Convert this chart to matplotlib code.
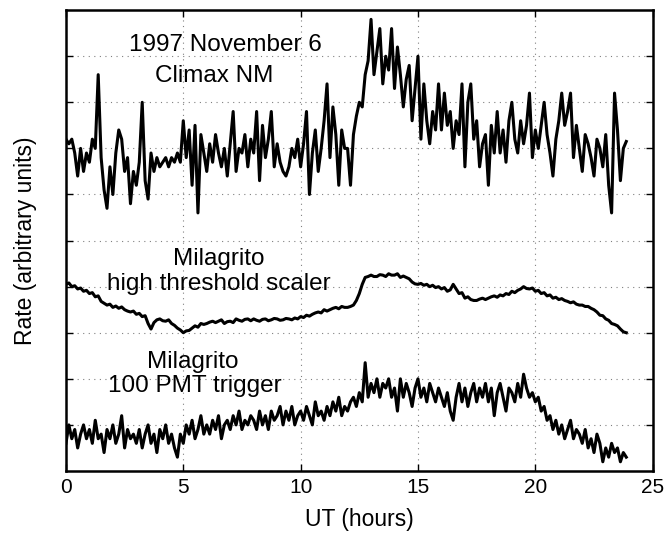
import numpy as np
import matplotlib
matplotlib.use("Agg")
import matplotlib.pyplot as plt

plt.rcParams['font.family'] = ['Liberation Sans', 'DejaVu Sans']

# Climax neutron monitor, sampled every 0.125 h
climax_step = 0.125
climax = [
    7.2, 7.1, 7.2, 6.9, 6.4, 7.0, 6.5, 6.9,
    6.7, 7.2, 7.0, 8.6, 6.8, 6.1, 5.7, 6.6,
    6.0, 6.9, 7.4, 7.2, 6.5, 6.8, 5.8, 6.5,
    6.2, 6.7, 8.0, 6.3, 5.9, 6.9, 6.5, 6.8,
    6.6, 6.7, 6.8, 6.6, 6.8, 6.7, 6.9, 6.7,
    7.6, 6.8, 7.4, 6.2, 7.5, 5.6, 7.3, 6.9,
    6.5, 7.1, 6.7, 7.3, 6.9, 6.6, 7.0, 6.4,
    7.1, 7.8, 6.5, 7.0, 6.9, 7.3, 6.6, 7.2,
    6.9, 7.8, 6.3, 7.5, 6.8, 7.2, 7.8, 6.6,
    7.1, 6.7, 6.5, 6.4, 6.6, 7.0, 6.8, 7.2,
    6.6, 7.1, 7.8, 6.0, 6.9, 7.4, 6.5, 7.0,
    7.6, 8.4, 6.8, 7.9, 7.3, 6.2, 7.4, 7.0,
    7.0, 6.2, 7.3, 7.7, 8.0, 7.9, 8.6, 8.9,
    9.8, 8.6, 9.1, 9.6, 8.4, 9.0, 8.7, 9.6,
    8.3, 9.2, 8.6, 7.9, 8.5, 8.8, 7.6, 8.3,
    9.0, 7.2, 8.4, 7.6, 7.1, 7.8, 7.4, 8.4,
    7.4, 8.2, 7.5, 7.8, 7.0, 7.6, 7.3, 8.4,
    6.6, 8.0, 8.4, 7.2, 7.6, 6.6, 7.1, 7.3,
    6.2, 7.5, 6.9, 7.8, 6.9, 7.4, 6.7, 7.6,
    8.0, 7.2, 6.9, 7.6, 7.1, 7.5, 8.2, 6.8,
    7.4, 7.0, 7.5, 8.0, 7.3, 6.9, 6.4, 7.2,
    7.6, 8.2, 7.5, 7.8, 8.2, 6.8, 7.5, 7.0,
    6.5, 7.3, 7.1, 6.8, 6.4, 7.2, 7.0, 6.6,
    7.3, 6.2, 5.6, 8.2, 7.4, 6.3, 7.0, 7.15,
]

# Milagrito high threshold scaler, every 0.125 h
scaler_step = 0.125
scaler = [
    4.05, 4.08, 4.0, 4.02, 3.95, 3.97, 3.9, 3.92,
    3.85, 3.87, 3.78, 3.8, 3.68, 3.64, 3.6, 3.62,
    3.55, 3.58, 3.53, 3.56, 3.5, 3.47, 3.45, 3.47,
    3.4, 3.42, 3.35, 3.37, 3.2, 3.08, 3.22, 3.28,
    3.3, 3.26, 3.25, 3.28, 3.2, 3.16, 3.1, 3.06,
    3.0, 3.04, 3.05, 3.1, 3.15, 3.12, 3.2, 3.18,
    3.2, 3.23, 3.25, 3.22, 3.25, 3.28, 3.2, 3.24,
    3.25, 3.22, 3.3, 3.27, 3.25, 3.29, 3.3, 3.26,
    3.3, 3.27, 3.25, 3.29, 3.3, 3.26, 3.28, 3.31,
    3.3, 3.27, 3.28, 3.31, 3.3, 3.28, 3.32, 3.3,
    3.35, 3.33, 3.38, 3.36, 3.4, 3.43, 3.45, 3.43,
    3.5, 3.47, 3.5, 3.53, 3.55, 3.52, 3.57, 3.55,
    3.55, 3.57, 3.6, 3.7, 3.85, 4.05, 4.2, 4.22,
    4.25, 4.22, 4.22, 4.26, 4.25, 4.22, 4.28, 4.25,
    4.25, 4.28, 4.2, 4.23, 4.2, 4.17, 4.1, 4.06,
    4.05, 4.07, 4.03, 4.05, 4.0, 4.03, 3.98, 4.0,
    3.95, 3.98, 3.9, 3.93, 4.05, 3.95, 3.85, 3.87,
    3.75, 3.78, 3.72, 3.7, 3.7, 3.73, 3.75, 3.72,
    3.75, 3.78, 3.8, 3.77, 3.82, 3.8, 3.85, 3.83,
    3.9, 3.87, 3.92, 3.95, 4.0, 3.96, 3.95, 3.97,
    3.9, 3.92, 3.85, 3.87, 3.8, 3.82, 3.75, 3.77,
    3.72, 3.74, 3.7, 3.68, 3.65, 3.67, 3.62, 3.6,
    3.6, 3.57, 3.57, 3.53, 3.5, 3.45, 3.38, 3.37,
    3.3, 3.27, 3.2, 3.18, 3.15, 3.08, 3.02, 3.0,
]

# Milagrito 100 PMT trigger, every 0.125 h
trigger_step = 0.125
trigger = [
    0.6, 1.0, 0.7, 0.9, 0.5, 0.8, 1.0, 0.7,
    0.9, 0.6, 1.1, 0.7, 0.8, 0.4, 0.9, 0.7,
    1.0, 0.6, 0.8, 1.2, 0.5, 0.9, 0.7, 0.8,
    0.6, 0.9, 0.5, 0.8, 1.0, 0.6, 0.8, 0.4,
    0.9, 0.7, 1.0, 0.6, 0.8, 0.5, 0.3, 0.8,
    0.6, 1.0, 0.8, 1.1, 0.7, 0.9, 1.2, 0.8,
    1.0, 0.8, 1.1, 0.9, 1.2, 0.7, 1.0, 1.1,
    0.9, 1.2, 1.0, 1.3, 0.9, 1.1, 1.0, 1.2,
    1.1, 0.9, 1.3, 1.0, 1.2, 0.9, 1.3, 1.1,
    1.2, 1.4, 1.0, 1.3, 1.1, 1.4, 1.0, 1.2,
    1.3, 1.1, 1.4, 1.2, 1.0, 1.5, 1.2, 1.3,
    1.1, 1.4, 1.2, 1.5, 1.3, 1.6, 1.2, 1.4,
    1.3, 1.5, 1.6, 1.4, 1.7, 1.5, 2.35, 1.6,
    1.9, 1.7, 2.0, 1.6, 1.9, 1.8, 2.0, 1.6,
    1.8, 1.3, 2.0, 1.6, 1.9, 1.7, 1.4, 1.8,
    2.0, 1.6, 1.8, 1.5, 1.9, 1.7, 1.5, 1.8,
    1.6, 1.4, 1.7, 1.3, 1.1, 1.6, 1.9, 1.5,
    1.8, 1.4, 1.7, 1.9, 1.5, 1.8, 1.6, 1.9,
    1.5, 1.8, 1.2, 1.7, 1.9, 1.6, 1.3, 1.8,
    1.7, 1.5, 1.9, 1.6, 2.1, 1.8, 1.6, 1.7,
    1.5, 1.6, 1.3, 1.4, 1.1, 1.2, 0.9, 1.1,
    0.8, 1.0, 0.7, 0.9, 1.1, 0.7, 0.9, 0.8,
    0.6, 0.9, 0.5, 0.7, 0.4, 0.8, 0.6, 0.2,
    0.5, 0.3, 0.6, 0.4, 0.5, 0.2, 0.4, 0.3,
]

t_climax = np.arange(len(climax)) * climax_step
t_scaler = np.arange(len(scaler)) * scaler_step
t_trigger = np.arange(len(trigger)) * trigger_step

fig = plt.figure(figsize=(6.66, 5.34), dpi=100)
ax = fig.add_axes([0.099, 0.118, 0.881, 0.863])

ax.plot(t_climax, climax, color='black', lw=2.2)
ax.plot(t_scaler, scaler, color='black', lw=2.2)
ax.plot(t_trigger, trigger, color='black', lw=2.2)

ax.set_xlim(0, 25)
ax.set_ylim(0, 10)
ax.set_xticks([0, 5, 10, 15, 20, 25])
ax.set_yticks(range(1, 10))
ax.set_yticklabels([])
ax.tick_params(direction='in', top=True, right=True, length=5, width=1,
               labelsize=15, pad=5)
ax.grid(True, linestyle=(0, (1, 4)), color='gray', lw=0.8)
for s in ax.spines.values():
    s.set_linewidth(1.8)

fs = 17.5
ax.text(6.8, 9.11, "1997 November 6", ha='center', va='baseline', fontsize=fs)
ax.text(6.3, 8.43, "Climax NM", ha='center', va='baseline', fontsize=fs)
ax.text(6.5, 4.46, "Milagrito", ha='center', va='baseline', fontsize=fs)
ax.text(6.5, 3.93, "high threshold scaler", ha='center', va='baseline', fontsize=fs)
ax.text(5.4, 2.24, "Milagrito", ha='center', va='baseline', fontsize=fs)
ax.text(5.5, 1.72, "100 PMT trigger", ha='center', va='baseline', fontsize=fs)

ax.set_xlabel("UT (hours)", fontsize=16.5, labelpad=8)
ax.set_ylabel("Rate (arbitrary units)", fontsize=16.5, labelpad=16)

fig.savefig("out.png", dpi=100)
